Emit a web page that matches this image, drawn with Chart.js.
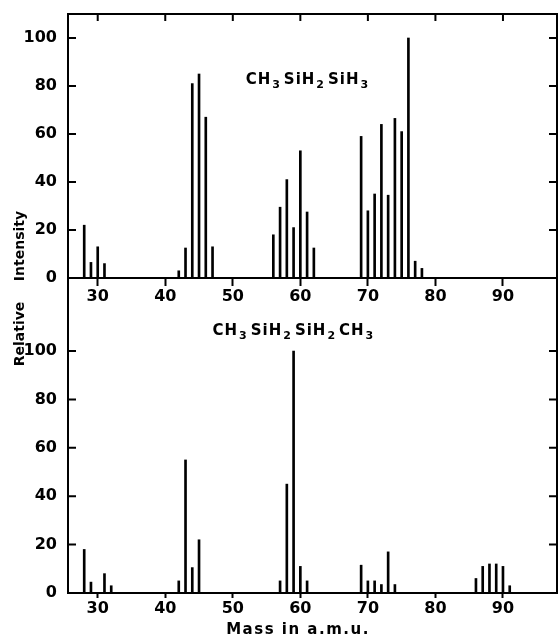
<!DOCTYPE html>
<html>
<head>
<meta charset="utf-8">
<script src="https://cdn.jsdelivr.net/npm/chart.js@4.4.1/dist/chart.umd.min.js"></script>
<style>
    html, body { margin: 0; padding: 0; background: #fff; }
    #wrap { position: relative; width: 559px; height: 639px; }
    #wrap canvas { position: absolute; left: 0; top: 0; }
</style>
</head>
<body>
<div id="wrap">
    <canvas id="upper" width="559" height="639"></canvas>
    <canvas id="lower" width="559" height="639"></canvas>
</div>
<script>
// CH3SiH2SiH3 spectrum (upper panel)
const upperMass = [28, 29, 30, 31, 42, 43, 44, 45, 46, 47, 56, 57, 58, 59, 60, 61, 62, 69, 70, 71, 72, 73, 74, 75, 76, 77, 78];
const upperIntensity = [22, 6.5, 13, 6, 3, 12.5, 81, 85, 67, 13, 18, 29.5, 41, 21, 53, 27.5, 12.5, 59, 28, 35, 64, 34.5, 66.5, 61, 100, 7, 4];

// CH3SiH2SiH2CH3 spectrum (lower panel)
const lowerMass = [28, 29, 31, 32, 42, 43, 44, 45, 57, 58, 59, 60, 61, 69, 70, 71, 72, 73, 74, 86, 87, 88, 89, 90, 91];
const lowerIntensity = [18, 4.5, 8, 3, 5, 55, 10.5, 22, 5, 45, 100, 11, 5, 11.5, 5, 5, 3.5, 17, 3.5, 6, 11, 12, 12, 11, 3];

const massTicks = [30, 40, 50, 60, 70, 80, 90];
const intensityTicks = [0, 20, 40, 60, 80, 100];

// formula labels: [text, isSubscript]
const upperFormula = [['CH', false], ['3', true], ['SiH', false], ['2', true], ['SiH', false], ['3', true]];
const lowerFormula = [['CH', false], ['3', true], ['SiH', false], ['2', true], ['SiH', false], ['2', true], ['CH', false], ['3', true]];

const yTitleWords = ['Relative', 'Intensity'];
const xTitle = 'Mass in a.m.u.';

const FONT = '"DejaVu Sans", sans-serif';
const INK = '#000';

const toPoints = (xs, ys) => xs.map((x, i) => ({ x, y: ys[i] }));

const drawFormula = (ctx, parts, x, y) => {
    ctx.save();
    ctx.fillStyle = INK;
    ctx.textBaseline = 'middle';
    ctx.textAlign = 'left';
    ctx.letterSpacing = '1px';
    let cx = x;
    parts.forEach(([text, sub]) => {
        ctx.font = sub ? `bold 11px ${FONT}` : `bold 15px ${FONT}`;
        ctx.fillText(text, cx + (sub ? 1 : 0), sub ? y + 5 : y);
        cx += ctx.measureText(text).width + (sub ? 4 : 0);
    });
    ctx.restore();
};

// frame + inward ticks on the sides (and top for the upper panel)
const framePlugin = {
    id: 'frame',
    afterDraw(chart, args, opts) {
        const { ctx, chartArea: a, scales } = chart;
        ctx.save();
        ctx.strokeStyle = INK;
        ctx.lineWidth = 2;
        ctx.strokeRect(a.left, a.top, a.right - a.left, a.bottom - a.top);
        ctx.beginPath();
        intensityTicks.forEach((v) => {
            const y = scales.y.getPixelForValue(v);
            ctx.moveTo(a.left, y);
            ctx.lineTo(a.left + 8, y);
            ctx.moveTo(a.right, y);
            ctx.lineTo(a.right - 8, y);
        });
        if (opts.topTicks) {
            massTicks.forEach((m) => {
                const x = scales.x.getPixelForValue(m);
                ctx.moveTo(x, a.top);
                ctx.lineTo(x, a.top + 7);
            });
        }
        ctx.stroke();
        ctx.restore();
    },
};

const labelsPlugin = {
    id: 'labels',
    afterDraw(chart, args, opts) {
        const { ctx, scales } = chart;
        drawFormula(ctx, opts.formula, scales.x.getPixelForValue(opts.at[0]), scales.y.getPixelForValue(opts.at[1]));

        ctx.save();
        ctx.fillStyle = INK;
        ctx.textBaseline = 'middle';
        ctx.textAlign = 'center';
        if (opts.yTitle) {
            ctx.font = `bold 14px ${FONT}`;
            ctx.translate(20, 0);
            ctx.rotate(-Math.PI / 2);
            ctx.fillText(yTitleWords[0], -334, 0);
            ctx.fillText(yTitleWords[1], -246, 0);
        }
        if (opts.xTitle) {
            ctx.font = `bold 15px ${FONT}`;
            ctx.letterSpacing = '1.5px';
            ctx.fillText(xTitle, 298, 630);
        }
        ctx.restore();
    },
};

const makeChart = (canvasId, xs, ys, cfg) => {
    return new Chart(document.getElementById(canvasId), {
        type: 'bar',
        data: {
            datasets: [{
                data: toPoints(xs, ys),
                backgroundColor: INK,
                borderWidth: 0,
                barThickness: 2,
            }],
        },
        plugins: [framePlugin, labelsPlugin],
        options: {
            responsive: false,
            animation: false,
            layout: { padding: cfg.padding },
            scales: {
                x: {
                    type: 'linear',
                    min: 25.6,
                    max: 98,
                    offset: false,
                    afterBuildTicks: (scale) => {
                        scale.ticks = massTicks.map((v) => ({ value: v }));
                    },
                    afterFit: (scale) => {
                        scale.height = 30;
                    },
                    border: { display: false },
                    grid: {
                        offset: false,
                        drawOnChartArea: false,
                        drawTicks: true,
                        tickLength: cfg.xTickLength,
                        tickWidth: 2,
                        color: INK,
                    },
                    ticks: {
                        padding: cfg.xLabelPad,
                        color: INK,
                        maxRotation: 0,
                        font: { family: FONT, size: 16, weight: 'bold' },
                    },
                },
                y: {
                    min: 0,
                    max: cfg.yMax,
                    afterBuildTicks: (scale) => {
                        scale.ticks = intensityTicks.map((v) => ({ value: v }));
                    },
                    afterFit: (scale) => {
                        scale.width = 68;
                    },
                    border: { display: false },
                    grid: { display: false },
                    ticks: {
                        padding: 3,
                        color: INK,
                        font: { family: FONT, size: 16, weight: 'bold' },
                    },
                },
            },
            plugins: {
                legend: { display: false },
                tooltip: { enabled: false },
                frame: { topTicks: cfg.topTicks },
                labels: cfg.labels,
            },
        },
    });
};

makeChart('upper', upperMass, upperIntensity, {
    padding: { left: 0, right: 2, top: 14, bottom: 331 },
    yMax: 110,
    xTickLength: 8,
    xLabelPad: 1,
    topTicks: true,
    labels: { formula: upperFormula, at: [51.9, 82.5], yTitle: true },
});

makeChart('lower', lowerMass, lowerIntensity, {
    padding: { left: 0, right: 2, top: 278, bottom: 16 },
    yMax: 130.2,
    xTickLength: 5,
    xLabelPad: 1.5,
    topTicks: false,
    labels: { formula: lowerFormula, at: [47.0, 108.4], xTitle: true },
});
</script>
</body>
</html>
